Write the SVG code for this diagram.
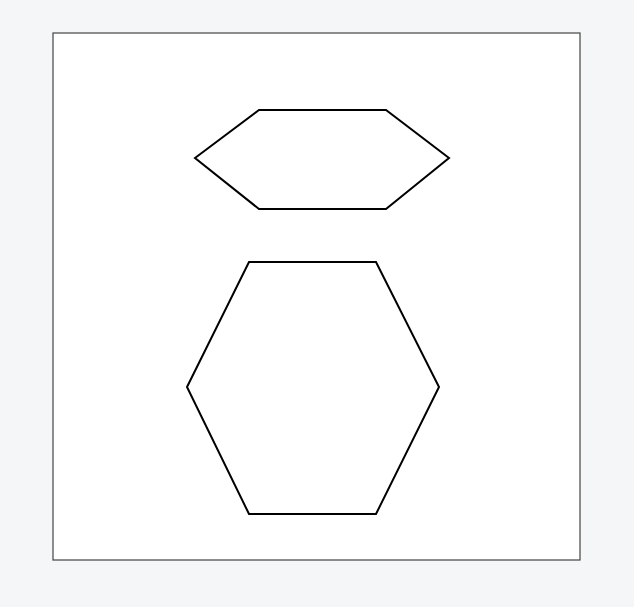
<svg xmlns="http://www.w3.org/2000/svg" width="634" height="607" viewBox="0 0 634 607">
<style>
.hex{fill:none;stroke:#000;stroke-width:2;stroke-linejoin:miter}
</style>
<rect x="0" y="0" width="634" height="607" fill="#f5f6f8"/>
<rect x="53" y="33" width="527" height="527" fill="#fff" stroke="#444" stroke-width="1.2"/>
<g id="hex-top">
<polygon class="hex" points="195,158 259,110 386,110 449,158 386,209 259,209"/>
</g>
<g id="hex-bottom">
<polygon class="hex" points="187,387 249,262 376,262 439,387 376,514 249,514"/>
</g>
<g id="connectors"></g>
</svg>
